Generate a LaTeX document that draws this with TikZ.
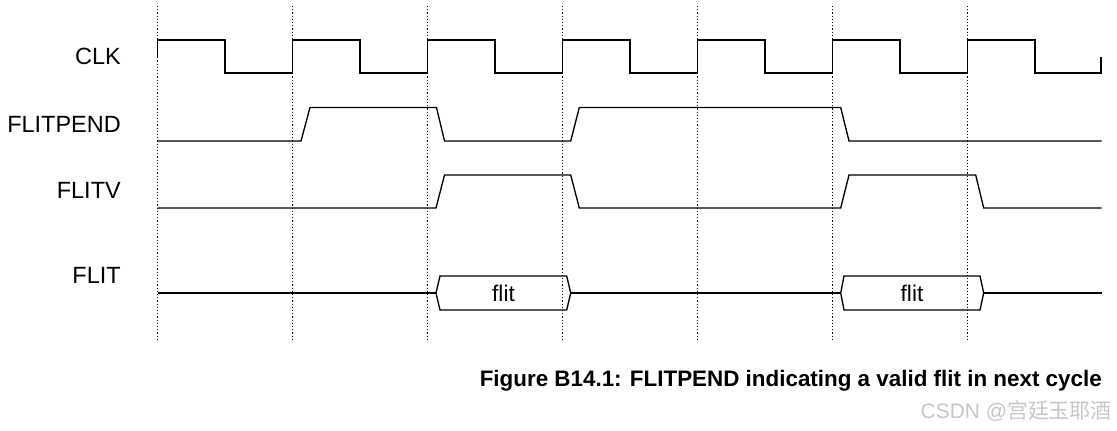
\documentclass[tikz,border=0pt]{standalone}
\usepackage{fontspec}
\setmainfont{Liberation Sans}
\newfontfamily\cjkfont{Noto Sans CJK SC}

\begin{document}
\begin{tikzpicture}[x=0.75pt,y=-0.75pt,
  sig/.style={line width=1pt, line join=miter},
  tick/.style={line width=0.9pt, dash pattern=on 0.9pt off 1.5pt},
  lbl/.style={anchor=east, inner sep=0pt, font=\fontsize{17.6}{20}\selectfont},
  word/.style={inner sep=0pt, font=\fontsize{17}{20}\selectfont}]
\useasboundingbox (0,0) rectangle (1117,431);
\fill[white] (0,0) rectangle (1117,431);

% cycle boundaries
\draw[tick] (157.5,6) -- (157.5,341);
\draw[tick] (292.5,6) -- (292.5,341);
\draw[tick] (427.5,6) -- (427.5,341);
\draw[tick] (562.5,6) -- (562.5,341);
\draw[tick] (697.5,6) -- (697.5,341);
\draw[tick] (832.5,6) -- (832.5,341);
\draw[tick] (967.5,6) -- (967.5,341);

% signal names
\node[lbl] (1) at (121,56) {CLK};
\node[lbl] (2) at (121,124.5) {FLITPEND};
\node[lbl] (3) at (121,190.5) {FLITV};
\node[lbl] (4) at (121,275) {FLIT};

% waveforms
\draw[sig] (157.5,57) |- (225,40) |- (292.5,73) |- (360,40) |- (427.5,73)
  |- (495,40) |- (562.5,73) |- (630,40) |- (697.5,73) |- (765,40)
  |- (832.5,73) |- (900,40) |- (967.5,73) |- (1035,40) |- (1101,73) -- (1101,57);
\draw[sig] (157.5,141) -- (301,141) -- (310,107.5) -- (436.5,107.5) -- (444.5,141)
  -- (570.7,141) -- (579.3,107.5) -- (840.7,107.5) -- (849,141) -- (1101.5,141);
\draw[sig] (157.5,208) -- (436,208) -- (444.5,175) -- (570.7,175) -- (579.3,208)
  -- (840.7,208) -- (849,175) -- (975.7,175) -- (983.7,208) -- (1101.5,208);

% data bus
\node[word] (5) at (503.5,293) {flit};
\node[word] (6) at (912,293) {flit};
\draw[sig] (157.5,293) -- (436,293);
\draw[sig] (436,293) -- (440,276) -- (566.7,276) -- (570.7,293) -- (566.7,310) -- (440,310) -- cycle;
\draw[sig] (570.7,293) -- (840.7,293);
\draw[sig] (840.7,293) -- (844,276) -- (980,276) -- (983.7,293) -- (980,310) -- (844,310) -- cycle;
\draw[sig] (983.7,293) -- (1101.5,293);

% caption
\node[anchor=base east, inner sep=0pt, font=\fontsize{16.8}{20}\selectfont\bfseries] (7) at (1102,386)
  {Figure B14.1: FLITPEND indicating a valid flit in next cycle};
\node[anchor=base east, inner sep=0pt, text=black!22, font=\fontsize{15.7}{18}\selectfont] (8) at (1112,418)
  {CSDN @{\cjkfont 宫廷玉耶酒}};
\end{tikzpicture}
\end{document}
